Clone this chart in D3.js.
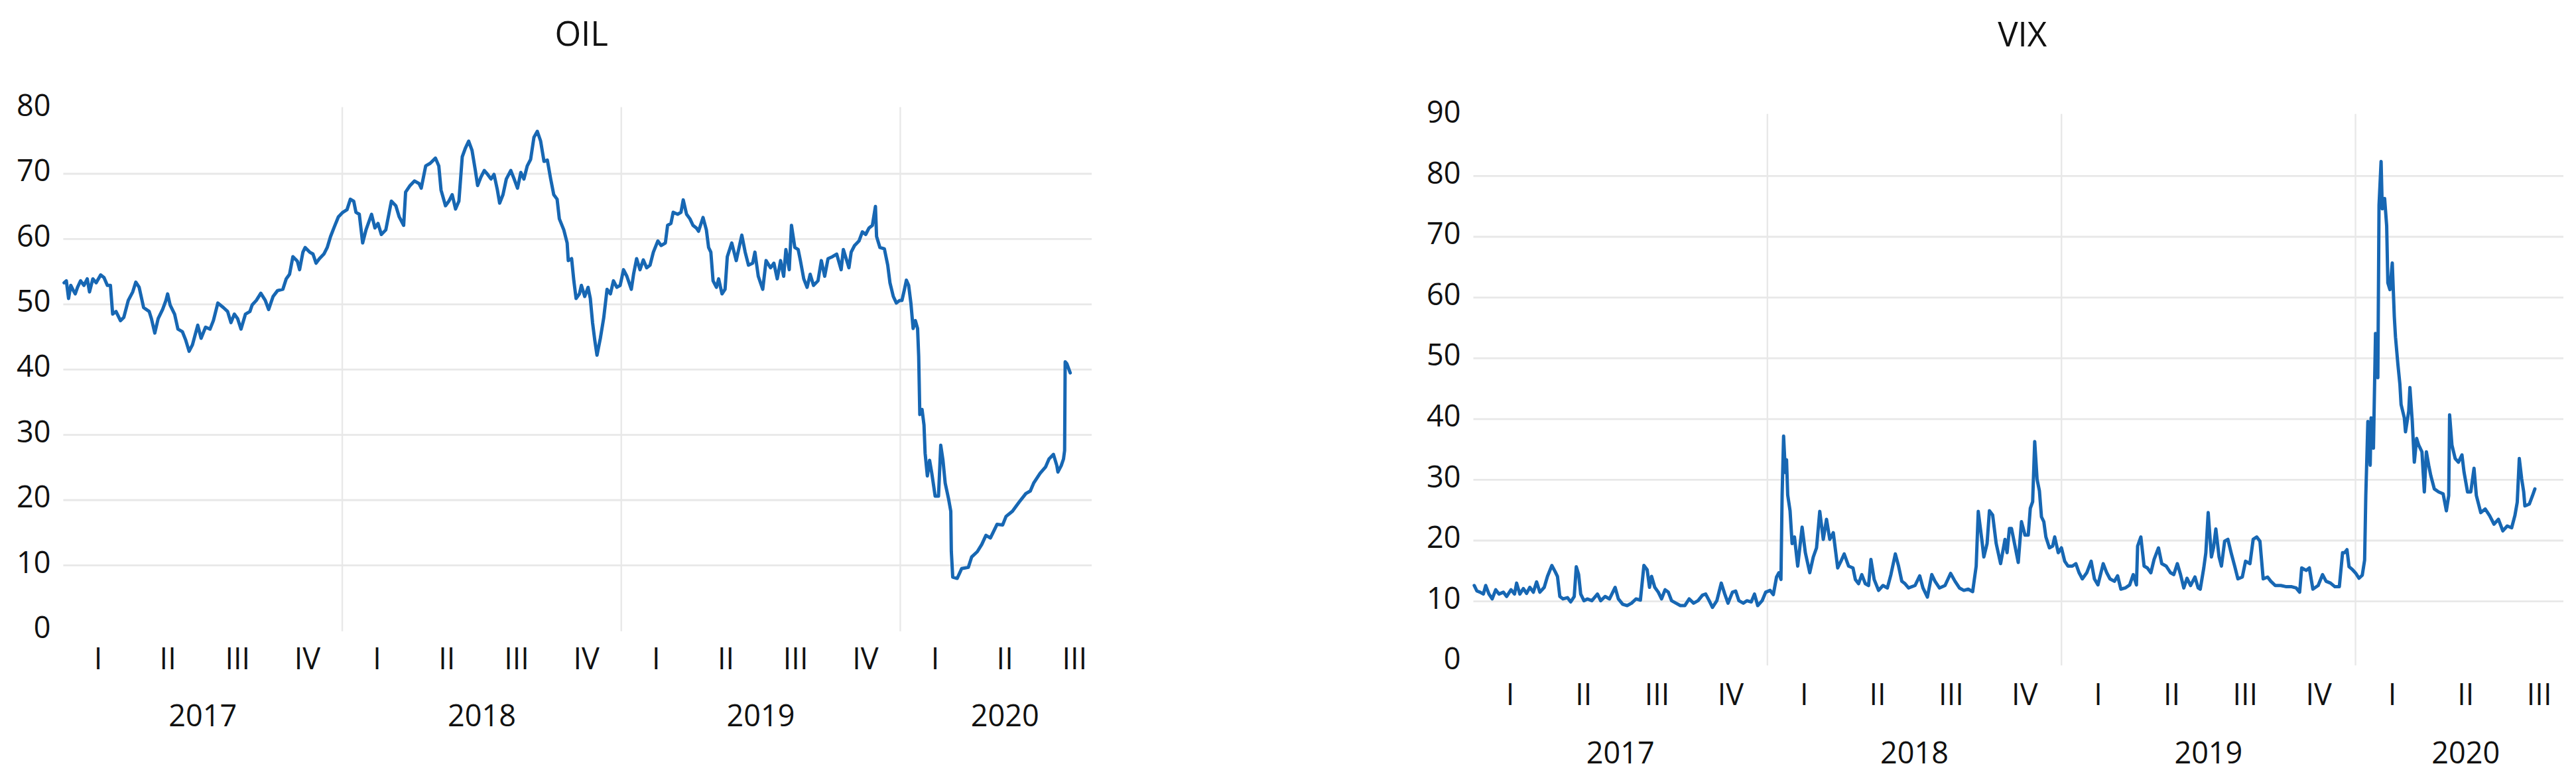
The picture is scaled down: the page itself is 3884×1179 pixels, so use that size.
<!DOCTYPE html>
<html><head><meta charset="utf-8">
<script src="https://cdn.jsdelivr.net/npm/d3@7"></script>
<style>html,body{margin:0;padding:0;background:#fff;} svg{display:block;}</style>
</head><body>
<svg id="chart" width="3884" height="1179"></svg>
<script>
// ---------- data (dates as decimal years) ----------
const quarterLabels = ["I", "II", "III", "IV"];
const years = [2017, 2018, 2019, 2020];
const oilTicks = [0, 10, 20, 30, 40, 50, 60, 70, 80];
const vixTicks = [0, 10, 20, 30, 40, 50, 60, 70, 80, 90];

const oilDates = [
2017.003,2017.011,2017.019,2017.027,2017.035,2017.043,2017.051,2017.062,2017.074,2017.086,2017.094,2017.106,2017.118,2017.134,2017.146,2017.158,2017.169,2017.177,2017.189,2017.205,2017.217,2017.233,2017.249,2017.260,2017.272,2017.288,2017.308,2017.316,2017.328,2017.340,2017.356,2017.368,2017.374,2017.383,2017.399,2017.411,2017.427,2017.439,2017.451,2017.463,2017.482,2017.494,2017.510,2017.526,2017.538,2017.554,2017.574,2017.589,2017.601,2017.613,2017.625,2017.637,2017.653,2017.669,2017.677,2017.692,2017.708,2017.724,2017.736,2017.752,2017.768,2017.787,2017.799,2017.811,2017.823,2017.839,2017.847,2017.859,2017.867,2017.883,2017.895,2017.906,2017.918,2017.934,2017.946,2017.958,2017.970,2017.986,
2018.002,2018.017,2018.029,2018.041,2018.049,2018.061,2018.073,2018.085,2018.105,2018.117,2018.128,2018.140,2018.156,2018.176,2018.192,2018.204,2018.220,2018.227,2018.243,2018.259,2018.275,2018.283,2018.299,2018.315,2018.334,2018.346,2018.354,2018.370,2018.382,2018.394,2018.406,2018.418,2018.430,2018.441,2018.453,2018.465,2018.477,2018.485,2018.497,2018.509,2018.521,2018.533,2018.544,2018.556,2018.564,2018.576,2018.588,2018.604,2018.616,2018.628,2018.640,2018.651,2018.663,2018.675,2018.687,2018.699,2018.711,2018.723,2018.735,2018.747,2018.758,2018.770,2018.778,2018.794,2018.806,2018.810,2018.822,2018.830,2018.838,2018.850,2018.857,2018.869,2018.881,2018.889,2018.897,2018.905,2018.913,2018.925,2018.937,2018.949,2018.961,2018.972,2018.984,2018.996,
2019.008,2019.020,2019.036,2019.044,2019.055,2019.067,2019.079,2019.091,2019.103,2019.115,2019.131,2019.143,2019.158,2019.166,2019.178,2019.186,2019.202,2019.214,2019.222,2019.234,2019.246,2019.257,2019.269,2019.277,2019.293,2019.305,2019.313,2019.321,2019.329,2019.341,2019.349,2019.361,2019.372,2019.380,2019.396,2019.412,2019.432,2019.444,2019.456,2019.471,2019.479,2019.491,2019.507,2019.519,2019.535,2019.547,2019.559,2019.571,2019.582,2019.590,2019.602,2019.610,2019.622,2019.634,2019.642,2019.654,2019.666,2019.677,2019.689,2019.705,2019.717,2019.729,2019.741,2019.757,2019.772,2019.788,2019.796,2019.816,2019.824,2019.836,2019.852,2019.864,2019.876,2019.888,2019.900,2019.911,2019.915,2019.927,2019.943,2019.955,2019.963,2019.975,2019.986,2019.998,
2020.006,2020.014,2020.022,2020.030,2020.038,2020.046,2020.054,2020.062,2020.066,2020.070,2020.078,2020.085,2020.089,2020.097,2020.105,2020.113,2020.125,2020.137,2020.145,2020.153,2020.161,2020.173,2020.181,2020.183,2020.188,2020.204,2020.220,2020.244,2020.256,2020.276,2020.292,2020.307,2020.323,2020.347,2020.367,2020.379,2020.402,2020.426,2020.450,2020.466,2020.478,2020.501,2020.521,2020.533,2020.549,2020.561,2020.565,2020.577,2020.585,2020.589,2020.591,2020.597,2020.609
];
const oilValues = [
53.3,53.6,50.9,52.9,52.2,51.6,52.6,53.6,52.9,53.9,51.9,53.9,53.3,54.5,54.1,52.9,52.9,48.5,48.9,47.5,48.0,50.6,51.9,53.4,52.6,49.5,48.9,47.8,45.6,47.8,49.2,50.6,51.6,49.9,48.5,46.2,45.8,44.5,42.8,43.8,46.8,44.8,46.5,46.2,47.5,50.2,49.5,48.9,47.2,48.5,47.8,46.2,48.5,48.9,49.9,50.6,51.7,50.6,49.2,51.2,52.1,52.3,53.9,54.6,57.3,56.6,55.3,58.0,58.7,58.0,57.7,56.3,57.0,57.7,58.7,60.4,61.7,63.4,
64.1,64.5,66.1,65.8,64.1,63.8,59.4,61.4,63.8,61.7,62.4,60.7,61.4,65.8,65.1,63.4,62.1,67.2,68.2,68.9,68.5,67.8,71.2,71.6,72.4,71.2,67.5,65.1,65.8,66.8,64.6,65.8,72.6,73.9,75.0,73.6,70.5,68.2,69.5,70.5,69.9,69.2,69.9,67.5,65.5,66.8,69.2,70.5,69.2,67.8,70.2,69.2,71.2,72.2,75.6,76.5,75.0,71.9,72.1,69.2,66.8,66.1,63.1,61.4,59.4,56.7,57.0,53.6,50.9,51.6,52.9,51.2,52.6,50.9,47.2,44.5,42.2,44.8,47.9,52.3,51.6,53.6,52.6,52.9,
55.3,54.3,52.3,54.6,57.0,55.3,56.8,55.6,56.0,58.0,59.7,59.0,59.4,62.1,62.4,64.1,63.8,64.1,66.0,63.8,63.1,62.1,61.7,61.2,63.3,61.4,58.7,58.0,53.6,52.6,53.9,51.6,52.3,57.3,59.4,56.7,60.6,58.0,56.0,56.3,58.0,54.3,52.3,56.7,55.6,56.3,53.9,56.7,54.3,58.4,55.3,62.1,58.7,58.4,56.7,53.9,52.6,54.6,52.9,53.6,56.7,54.3,57.0,57.3,57.7,55.3,58.4,55.6,58.0,59.0,59.7,61.1,60.7,61.7,62.1,65.0,60.4,58.7,58.5,56.0,53.3,51.2,50.2,50.6,
50.6,52.1,53.7,52.9,50.2,46.3,47.5,46.3,42.0,33.1,33.9,31.5,27.2,23.7,26.1,24.1,20.6,20.6,28.4,26.1,22.6,20.2,18.3,12.1,8.2,8.0,9.5,9.7,11.3,12.1,13.2,14.6,14.2,16.3,16.2,17.5,18.3,19.7,21.0,21.4,22.6,24.1,25.1,26.3,27.0,25.3,24.3,25.3,26.3,27.6,41.2,40.9,39.5
];

const vixDates = [
2017.003,2017.012,2017.023,2017.034,2017.042,2017.053,2017.064,2017.076,2017.087,2017.102,2017.113,2017.128,2017.140,2017.147,2017.158,2017.170,2017.181,2017.192,2017.204,2017.215,2017.226,2017.241,2017.252,2017.267,2017.279,2017.286,2017.294,2017.305,2017.320,2017.331,2017.343,2017.350,2017.358,2017.365,2017.376,2017.388,2017.403,2017.422,2017.433,2017.448,2017.463,2017.471,2017.482,2017.493,2017.508,2017.523,2017.538,2017.553,2017.568,2017.580,2017.591,2017.599,2017.606,2017.617,2017.629,2017.640,2017.652,2017.663,2017.674,2017.689,2017.704,2017.719,2017.734,2017.749,2017.764,2017.779,2017.790,2017.802,2017.813,2017.828,2017.843,2017.855,2017.866,2017.881,2017.892,2017.903,2017.918,2017.930,2017.945,2017.956,2017.967,2017.982,2017.994,
2018.009,2018.020,2018.031,2018.039,2018.046,2018.050,2018.055,2018.061,2018.065,2018.069,2018.077,2018.084,2018.092,2018.103,2018.118,2018.129,2018.144,2018.156,2018.167,2018.178,2018.190,2018.201,2018.212,2018.224,2018.239,2018.250,2018.261,2018.276,2018.291,2018.299,2018.310,2018.321,2018.333,2018.344,2018.352,2018.363,2018.378,2018.393,2018.408,2018.420,2018.435,2018.446,2018.457,2018.468,2018.480,2018.502,2018.518,2018.529,2018.544,2018.559,2018.570,2018.585,2018.604,2018.623,2018.638,2018.653,2018.668,2018.683,2018.698,2018.710,2018.717,2018.729,2018.736,2018.747,2018.755,2018.766,2018.778,2018.793,2018.808,2018.815,2018.823,2018.830,2018.842,2018.853,2018.864,2018.876,2018.887,2018.894,2018.902,2018.909,2018.917,2018.925,2018.932,2018.940,2018.947,2018.959,2018.970,2018.977,2018.989,
2019.000,2019.011,2019.022,2019.037,2019.049,2019.060,2019.071,2019.086,2019.101,2019.112,2019.124,2019.142,2019.154,2019.165,2019.180,2019.191,2019.202,2019.217,2019.232,2019.244,2019.255,2019.259,2019.270,2019.281,2019.292,2019.304,2019.315,2019.330,2019.341,2019.356,2019.371,2019.382,2019.394,2019.405,2019.416,2019.427,2019.439,2019.454,2019.465,2019.472,2019.484,2019.491,2019.499,2019.510,2019.517,2019.525,2019.536,2019.544,2019.555,2019.566,2019.577,2019.589,2019.600,2019.615,2019.626,2019.641,2019.652,2019.664,2019.675,2019.686,2019.701,2019.712,2019.727,2019.746,2019.765,2019.783,2019.798,2019.810,2019.817,2019.832,2019.843,2019.855,2019.873,2019.888,2019.900,2019.915,2019.930,2019.945,
2019.956,2019.963,2019.971,2019.978,2019.990,2020.001,2020.012,2020.023,2020.031,2020.035,2020.042,2020.050,2020.053,2020.061,2020.068,2020.076,2020.080,2020.087,2020.091,2020.099,2020.106,2020.110,2020.117,2020.125,2020.132,2020.136,2020.144,2020.151,2020.155,2020.166,2020.170,2020.181,2020.185,2020.193,2020.200,2020.208,2020.215,2020.226,2020.234,2020.241,2020.249,2020.256,2020.268,2020.283,2020.298,2020.309,2020.317,2020.320,2020.328,2020.339,2020.350,2020.362,2020.369,2020.381,2020.392,2020.403,2020.411,2020.426,2020.441,2020.456,2020.471,2020.486,2020.501,2020.516,2020.531,2020.542,2020.550,2020.557,2020.565,2020.572,2020.576,2020.591,2020.602,2020.610
];
const vixValues = [
12.6,11.7,11.5,11.2,12.6,11.2,10.4,11.9,11.2,11.5,10.8,11.9,11.2,13.0,11.2,12.1,11.3,12.3,11.5,13.2,11.5,12.3,14.1,15.9,14.8,14.1,10.8,10.4,10.6,9.9,10.8,15.7,14.4,11.2,10.1,10.4,10.1,11.2,10.1,10.8,10.4,11.2,12.3,10.4,9.5,9.3,9.7,10.4,10.2,15.9,15.2,12.3,14.1,12.3,11.5,10.4,11.9,11.5,10.1,9.7,9.3,9.3,10.4,9.7,10.1,11.0,11.2,10.1,9.0,10.1,13.0,11.2,9.7,11.5,11.7,10.1,9.7,10.1,9.9,11.2,9.3,10.1,11.5,
11.8,11.1,14.0,14.7,13.6,27.5,37.2,31.2,33.3,27.5,24.9,19.5,20.6,15.8,22.2,18.0,14.7,17.3,18.8,24.8,20.2,23.5,20.2,21.3,15.5,16.6,17.8,15.8,15.5,13.6,12.9,14.4,12.9,12.6,16.9,13.6,11.8,12.6,12.2,14.4,17.8,15.8,13.3,12.9,12.2,12.6,14.2,12.2,10.7,14.4,13.3,12.2,12.6,14.6,13.3,12.2,11.8,12.0,11.6,15.8,24.8,20.2,17.3,19.5,24.9,24.2,19.5,16.2,20.2,18.0,22.0,22.0,19.1,16.4,23.1,20.9,20.9,25.3,26.4,36.3,30.1,28.2,23.9,23.1,20.6,18.8,19.1,20.6,18.0,
18.8,16.6,15.8,15.8,16.2,14.7,13.7,14.7,16.6,13.7,12.7,16.2,14.7,13.7,13.3,14.2,12.0,12.2,12.7,14.4,12.7,19.1,20.6,15.8,15.5,14.7,16.9,18.8,16.2,15.8,14.7,14.4,16.2,14.4,12.2,13.8,12.6,14.0,12.2,12.0,15.5,18.0,24.6,17.3,18.8,21.9,17.3,15.8,19.9,20.2,18.0,15.8,13.7,14.0,16.6,16.2,20.2,20.6,19.9,13.7,14.0,13.3,12.6,12.6,12.4,12.4,12.2,11.5,15.5,15.1,15.5,12.0,12.6,14.4,13.3,13.0,12.4,12.4,
18.0,18.0,18.5,15.7,15.2,14.6,13.8,14.3,16.8,27.4,39.6,32.4,40.2,35.2,54.1,46.8,75.2,82.4,74.6,76.3,71.8,62.4,61.3,65.7,56.8,53.5,49.1,45.7,42.4,40.2,37.9,41.3,45.2,39.6,32.9,36.8,35.7,34.6,28.0,34.6,32.4,30.7,28.5,28.0,27.7,24.9,27.4,40.7,35.7,33.5,32.9,34.1,31.3,28.0,28.0,31.9,27.4,24.6,25.2,24.1,22.7,23.5,21.6,22.4,22.1,24.1,26.3,33.5,30.2,28.0,25.7,26.0,27.4,28.5
];

// ---------- drawing ----------
const svg = d3.select("#chart");
const FONT = "'Open Sans', 'Noto Sans', sans-serif";
const TEXT = "#111";
const GRID = "#e8e8e8";
const LINE = "#1767b3";

function drawPanel(p) {
  const x = d3.scaleLinear().domain([years[0], p.domainEnd]).range([p.left, p.right]);
  const y = d3.scaleLinear().domain([0, p.ticks[p.ticks.length - 1]]).range([p.bottom, p.top]);
  const g = svg.append("g");

  // horizontal gridlines (inner ticks only)
  g.selectAll("line.h").data(p.ticks.slice(1, -1)).join("line")
    .attr("x1", p.left).attr("x2", p.right)
    .attr("y1", d => y(d)).attr("y2", d => y(d))
    .attr("stroke", GRID).attr("stroke-width", 2.8);

  // vertical year gridlines
  g.selectAll("line.v").data(years.slice(1)).join("line")
    .attr("x1", d => x(d)).attr("x2", d => x(d))
    .attr("y1", p.top - 2).attr("y2", p.bottom + p.vExt)
    .attr("stroke", GRID).attr("stroke-width", 2.4);

  // y axis labels
  const yAxis = d3.axisLeft(y).tickValues(p.ticks).tickSize(0).tickPadding(0);
  const ya = g.append("g").attr("transform", `translate(${p.left - 19},-5)`).call(yAxis);
  ya.select(".domain").remove();
  ya.selectAll("text").attr("font-family", FONT).attr("font-size", 45)
    .attr("fill", TEXT).attr("text-anchor", "end").attr("dy", "0.35em");

  // quarter labels
  const quarters = [];
  years.forEach(yr => quarterLabels.forEach((q, i) => {
    if (yr + i / 4 < p.domainEnd) quarters.push({ t: yr + (i + 0.5) / 4, label: q });
  }));
  g.selectAll("text.q").data(quarters).join("text")
    .attr("x", d => x(d.t)).attr("y", p.qY)
    .attr("text-anchor", "middle").attr("dominant-baseline", "central")
    .attr("font-family", FONT).attr("font-size", 45).attr("fill", TEXT)
    .text(d => d.label);

  // year labels, centred on the quarters shown for each year
  g.selectAll("text.y").data(years).join("text")
    .attr("x", d => {
      const n = quarters.filter(q => Math.floor(q.t) === d).length;
      return x(d + n / 8);
    })
    .attr("y", p.yearY)
    .attr("text-anchor", "middle").attr("dominant-baseline", "central")
    .attr("font-family", FONT).attr("font-size", 45).attr("fill", TEXT)
    .text(d => d);

  // title
  g.append("text").attr("x", (p.left + p.right) / 2 + 6).attr("y", p.titleY)
    .attr("text-anchor", "middle").attr("dominant-baseline", "central")
    .attr("font-family", FONT).attr("font-size", 51).attr("fill", TEXT)
    .text(p.title);

  // series line
  const pts = p.dates.map((t, i) => [t, p.values[i]]);
  g.append("path").datum(pts)
    .attr("fill", "none").attr("stroke", LINE).attr("stroke-width", 5)
    .attr("stroke-linejoin", "round").attr("stroke-linecap", "round")
    .attr("d", d3.line().x(d => x(d[0])).y(d => y(d[1])));
}

drawPanel({ title: "OIL", dates: oilDates, values: oilValues, ticks: oilTicks,
  left: 95.4, right: 1646, top: 163.6, bottom: 950.8, domainEnd: 2020.686,
  vExt: 1, qY: 991, yearY: 1077, titleY: 49 });

drawPanel({ title: "VIX", dates: vixDates, values: vixValues, ticks: vixTicks,
  left: 2221.5, right: 3865, top: 173.8, bottom: 998.2, domainEnd: 2020.707,
  vExt: 5, qY: 1045, yearY: 1133, titleY: 50 });
</script>
</body></html>
